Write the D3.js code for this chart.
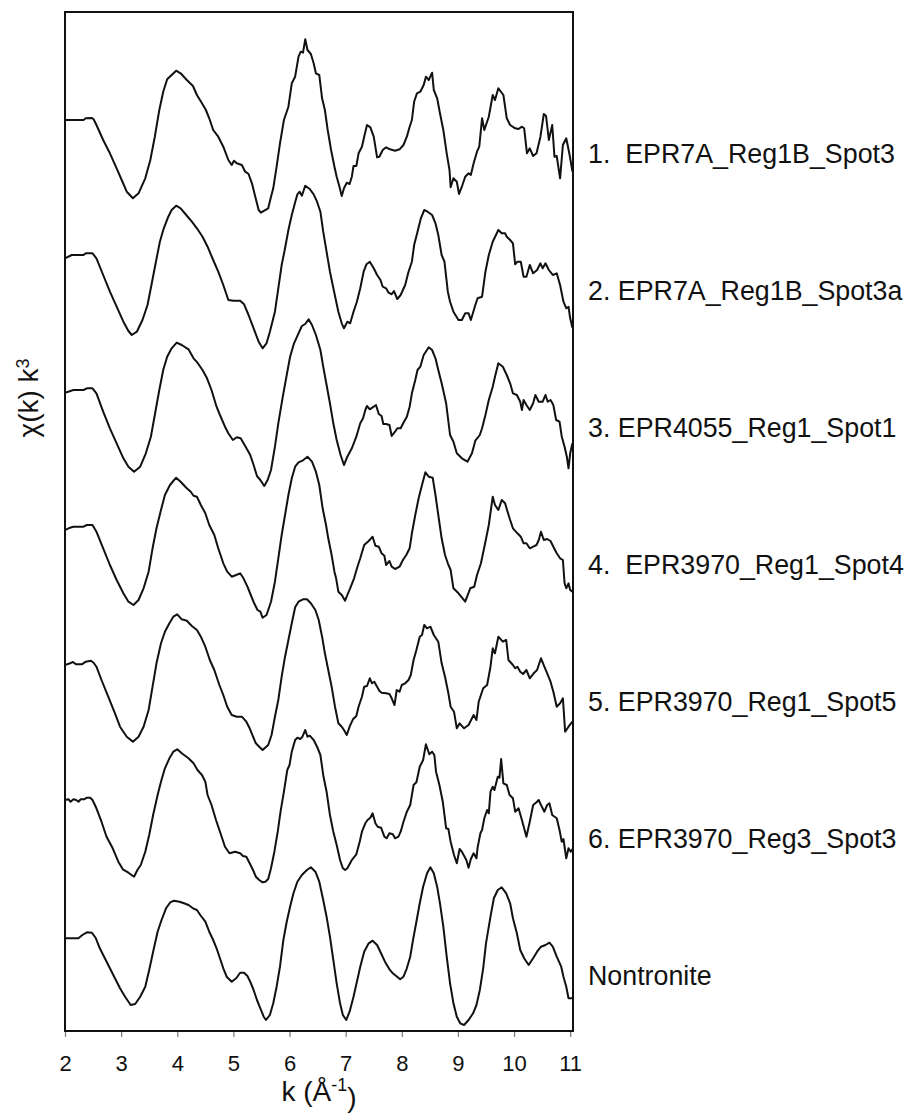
<!DOCTYPE html>
<html>
<head>
<meta charset="utf-8">
<script src="https://cdn.jsdelivr.net/npm/d3@7"></script>
<style>
  html, body { margin: 0; padding: 0; background: #fff; }
  svg { display: block; }
  text { font-family: "Liberation Sans", Arial, Helvetica, sans-serif; fill: #111; }
</style>
</head>
<body>
<svg id="chart" width="910" height="1114"></svg>
<script>
// EXAFS spectra, chi(k)*k^3, stacked with a vertical offset per sample.
const kTicks = [2, 3, 4, 5, 6, 7, 8, 9, 10, 11];

const seriesNames = [
  "1.  EPR7A_Reg1B_Spot3",
  "2. EPR7A_Reg1B_Spot3a",
  "3. EPR4055_Reg1_Spot1",
  "4.  EPR3970_Reg1_Spot4",
  "5. EPR3970_Reg1_Spot5",
  "6. EPR3970_Reg3_Spot3",
  "Nontronite"
];

// vertical offset added to each spectrum
const offsets = [81, 67.5, 54, 40.5, 27, 13.5, 0];

// [k, chi(k)k^3] pairs
const spot3 = [
  [2.00,0],[2.33,0],[2.37,0.17],[2.48,0.2],[2.51,0.07],[2.56,-0.5],[2.68,-2.0],[2.80,-3.33],[2.92,-4.83],[3.01,-6.0],
  [3.10,-7.17],[3.21,-7.83],[3.31,-7.33],[3.43,-5.83],[3.52,-4.0],[3.60,-1.67],[3.68,1.0],[3.75,2.83],[3.82,4.07],[3.90,4.5],
  [3.98,4.93],[4.06,4.67],[4.17,4.0],[4.28,3.4],[4.35,2.5],[4.44,1.67],[4.51,1.0],[4.57,0.17],[4.64,-1.0],[4.73,-1.67],
  [4.82,-2.67],[4.91,-4.0],[4.97,-4.5],[5.01,-4.07],[5.06,-4.33],[5.15,-4.5],[5.21,-5.17],[5.27,-5.4],[5.33,-6.33],[5.39,-7.67],
  [5.45,-9.0],[5.49,-9.27],[5.55,-9.07],[5.62,-8.83],[5.67,-7.67],[5.71,-6.83],[5.77,-4.67],[5.83,-2.33],[5.90,0],[5.98,1.33],
  [6.04,3.67],[6.10,4.33],[6.16,6.33],[6.20,6.83],[6.24,6.73],[6.28,8.07],[6.32,7.0],[6.38,6.6],[6.43,5.67],[6.47,4.67],
  [6.53,4.5],[6.58,2.17],[6.63,1.0],[6.68,-1.0],[6.74,-3.0],[6.80,-4.67],[6.84,-5.67],[6.89,-6.67],[6.93,-7.6],[6.97,-6.83],
  [7.02,-6.27],[7.07,-6.4],[7.11,-5.67],[7.14,-4.6],[7.19,-4.6],[7.23,-3.33],[7.29,-2.67],[7.33,-1.67],[7.38,-0.5],[7.44,-0.73],
  [7.50,-1.67],[7.56,-3.73],[7.60,-3.67],[7.66,-3.0],[7.72,-2.73],[7.79,-2.93],[7.88,-3.07],[7.96,-2.93],[8.03,-2.5],[8.09,-1.67],
  [8.14,-0.67],[8.18,0],[8.22,1.83],[8.27,2.67],[8.33,2.83],[8.39,3.5],[8.43,4.33],[8.48,4.0],[8.54,4.73],[8.57,3.0],
  [8.63,2.17],[8.68,0.67],[8.74,-1.0],[8.80,-3.33],[8.85,-5.0],[8.87,-6.73],[8.92,-5.83],[8.98,-6.17],[9.02,-7.4],[9.07,-6.67],
  [9.13,-5.67],[9.19,-5.33],[9.23,-5.5],[9.28,-4.33],[9.34,-3.17],[9.38,-2.67],[9.43,0.17],[9.47,-1.0],[9.55,0.33],[9.62,2.5],
  [9.66,2.0],[9.72,3.17],[9.81,2.5],[9.87,0.17],[9.93,-0.5],[10.02,-0.83],[10.08,-0.9],[10.14,-0.67],[10.18,-0.83],[10.23,-3.33],
  [10.28,-2.83],[10.34,-3.6],[10.40,-3.33],[10.47,-1.67],[10.53,0.6],[10.57,0.4],[10.62,-2.0],[10.68,-0.5],[10.72,-3.67],[10.76,-3.6],
  [10.82,-5.83],[10.87,-2.5],[10.93,-1.83],[10.99,-3.5],[11.04,-5.17]
];

const spot3a = [
  [2.00,-0.33],[2.12,0],[2.33,0],[2.37,0.17],[2.49,0.17],[2.56,-0.33],[2.68,-2.0],[2.80,-3.67],[2.92,-5.17],[3.04,-6.67],
  [3.13,-7.6],[3.19,-8.0],[3.28,-7.67],[3.38,-6.5],[3.47,-5.0],[3.54,-3.0],[3.62,-0.67],[3.69,1.33],[3.76,2.67],[3.84,3.83],
  [3.90,4.5],[3.98,4.93],[4.06,4.67],[4.16,4.0],[4.26,3.33],[4.35,2.67],[4.45,1.83],[4.54,0.83],[4.64,-0.5],[4.73,-1.67],
  [4.82,-3.0],[4.91,-4.5],[5.00,-4.57],[5.12,-4.57],[5.19,-4.93],[5.27,-6.0],[5.36,-7.33],[5.45,-8.67],[5.52,-9.33],[5.59,-8.83],
  [5.65,-7.67],[5.74,-5.67],[5.80,-3.33],[5.86,-1.0],[5.92,0.67],[5.98,2.5],[6.04,4.0],[6.10,5.27],[6.14,6.07],[6.18,6.33],
  [6.22,5.93],[6.28,6.93],[6.36,6.6],[6.43,6.07],[6.49,5.33],[6.55,4.33],[6.60,2.33],[6.66,0.33],[6.72,-1.67],[6.80,-3.83],
  [6.87,-5.67],[6.93,-6.83],[6.97,-7.33],[7.03,-6.67],[7.08,-6.83],[7.14,-5.67],[7.20,-4.67],[7.26,-3.33],[7.32,-1.67],[7.37,-0.93],
  [7.43,-0.67],[7.50,-1.33],[7.56,-2.0],[7.62,-2.5],[7.66,-3.17],[7.72,-3.33],[7.76,-3.73],[7.82,-3.93],[7.86,-3.6],[7.92,-4.4],
  [7.98,-4.0],[8.06,-3.0],[8.12,-1.67],[8.18,-0.67],[8.22,1.0],[8.28,2.33],[8.34,3.67],[8.40,4.5],[8.46,4.33],[8.54,4.0],
  [8.60,3.17],[8.65,2.0],[8.71,0],[8.76,-0.67],[8.82,-3.67],[8.86,-4.67],[8.92,-5.67],[9.01,-6.5],[9.07,-6.5],[9.13,-5.83],
  [9.19,-5.83],[9.23,-6.5],[9.31,-5.0],[9.35,-4.33],[9.43,-4.17],[9.49,-1.67],[9.55,0],[9.62,1.33],[9.72,2.5],[9.78,2.17],
  [9.84,2.17],[9.87,1.83],[9.93,1.5],[9.98,1.17],[10.02,-0.93],[10.06,-0.67],[10.12,-0.67],[10.17,-2.17],[10.22,-2.17],[10.28,-1.0],
  [10.34,-1.83],[10.41,-1.5],[10.47,-0.83],[10.51,-1.33],[10.56,-0.83],[10.62,-1.5],[10.69,-2.0],[10.76,-1.83],[10.82,-3.0],[10.88,-4.67],
  [10.93,-5.33],[10.97,-5.17],[11.00,-6.33],[11.04,-7.27]
];

const epr4055 = [
  [2.00,-0.27],[2.15,0],[2.33,0],[2.39,0.17],[2.49,0.17],[2.56,-0.33],[2.68,-2.17],[2.80,-3.83],[2.92,-5.33],[3.04,-6.83],
  [3.13,-7.67],[3.23,-8.17],[3.34,-7.67],[3.44,-6.33],[3.53,-4.67],[3.60,-2.5],[3.68,0],[3.75,2.0],[3.82,3.33],[3.90,4.17],
  [3.99,4.73],[4.08,4.5],[4.20,4.07],[4.29,3.17],[4.36,2.73],[4.45,2.0],[4.53,1.17],[4.61,0],[4.70,-1.67],[4.76,-2.5],
  [4.85,-3.67],[4.91,-4.33],[4.99,-5.0],[5.06,-4.73],[5.13,-4.83],[5.21,-5.6],[5.30,-6.5],[5.36,-7.5],[5.42,-8.6],[5.48,-9.0],
  [5.55,-9.6],[5.61,-9.0],[5.67,-8.0],[5.74,-5.67],[5.80,-3.33],[5.88,-0.67],[5.95,1.5],[6.01,3.33],[6.08,4.67],[6.16,5.67],
  [6.22,6.4],[6.28,6.6],[6.34,7.07],[6.40,6.5],[6.47,5.5],[6.55,4.0],[6.60,2.33],[6.66,0.5],[6.72,-1.33],[6.78,-3.33],
  [6.84,-5.0],[6.91,-6.5],[6.97,-7.5],[7.03,-6.67],[7.11,-5.83],[7.19,-4.67],[7.26,-3.33],[7.31,-2.83],[7.35,-2.0],[7.38,-1.6],
  [7.43,-1.93],[7.50,-1.67],[7.54,-1.5],[7.59,-2.4],[7.64,-2.6],[7.67,-3.4],[7.72,-3.4],[7.78,-3.5],[7.82,-4.6],[7.88,-4.17],
  [7.92,-3.83],[7.98,-3.83],[8.03,-3.27],[8.09,-2.67],[8.14,-1.67],[8.18,-0.33],[8.24,1.0],[8.28,2.0],[8.33,2.33],[8.39,3.5],
  [8.48,4.27],[8.54,4.0],[8.60,3.17],[8.65,2.0],[8.71,0.67],[8.79,-1.33],[8.86,-4.5],[8.92,-5.17],[8.98,-6.33],[9.07,-6.83],
  [9.17,-7.17],[9.25,-6.33],[9.31,-5.07],[9.39,-4.5],[9.43,-3.83],[9.49,-2.5],[9.55,-1.0],[9.62,0.33],[9.66,1.33],[9.72,2.67],
  [9.80,2.33],[9.87,1.5],[9.93,0.67],[9.98,-0.33],[10.05,-0.5],[10.11,-1.17],[10.14,-2.0],[10.17,-1.0],[10.22,-1.5],[10.28,-2.0],
  [10.34,-1.33],[10.38,-0.5],[10.44,-1.17],[10.51,-1.17],[10.56,-0.5],[10.60,-1.17],[10.65,-1.0],[10.70,-1.5],[10.75,-3.0],[10.81,-3.17],
  [10.85,-4.67],[10.90,-5.67],[10.94,-6.67],[10.97,-7.83],[11.00,-6.33],[11.04,-5.33]
];

const epr3970s4 = [
  [2.00,-0.5],[2.09,-0.27],[2.15,-0.17],[2.33,-0.17],[2.39,0],[2.49,0],[2.56,-0.67],[2.68,-2.33],[2.80,-4.0],[2.92,-5.5],
  [3.04,-6.83],[3.13,-7.67],[3.22,-8.0],[3.31,-7.5],[3.40,-6.33],[3.49,-4.67],[3.56,-2.33],[3.63,-0.33],[3.71,1.5],[3.78,3.0],
  [3.87,4.0],[3.98,4.73],[4.06,4.33],[4.16,3.73],[4.24,3.33],[4.29,2.93],[4.35,2.83],[4.42,2.0],[4.50,1.17],[4.57,0],
  [4.66,-1.0],[4.73,-2.33],[4.82,-3.83],[4.89,-4.67],[4.97,-5.17],[5.05,-5.0],[5.12,-4.83],[5.18,-5.33],[5.25,-6.17],[5.31,-7.0],
  [5.37,-7.83],[5.43,-8.5],[5.48,-8.67],[5.52,-9.27],[5.59,-9.0],[5.67,-7.67],[5.74,-5.67],[5.80,-3.33],[5.86,-1.0],[5.92,1.0],
  [5.98,3.0],[6.04,4.67],[6.10,5.83],[6.16,6.27],[6.24,6.47],[6.32,6.83],[6.40,6.33],[6.47,5.33],[6.53,4.0],[6.59,1.67],
  [6.65,0],[6.69,-1.33],[6.75,-3.0],[6.80,-4.67],[6.83,-5.33],[6.87,-6.67],[6.93,-7.0],[6.99,-7.57],[7.03,-7.0],[7.08,-6.33],
  [7.15,-5.33],[7.21,-4.17],[7.26,-3.33],[7.33,-2.0],[7.41,-1.6],[7.48,-1.17],[7.53,-2.07],[7.59,-2.17],[7.64,-2.83],[7.69,-3.07],
  [7.72,-4.0],[7.78,-3.6],[7.82,-4.17],[7.88,-4.4],[7.96,-4.17],[8.02,-3.5],[8.08,-3.0],[8.14,-2.33],[8.18,-0.83],[8.24,1.0],
  [8.30,2.67],[8.36,4.0],[8.42,5.27],[8.48,4.83],[8.55,4.73],[8.60,3.0],[8.65,1.0],[8.71,-1.33],[8.77,-3.0],[8.82,-3.83],
  [8.87,-4.5],[8.92,-6.33],[9.01,-6.83],[9.13,-7.67],[9.22,-6.33],[9.29,-6.17],[9.34,-5.0],[9.41,-3.83],[9.49,-1.67],[9.55,0],
  [9.62,2.83],[9.66,2.0],[9.72,1.5],[9.78,2.5],[9.84,2.17],[9.92,0.67],[9.98,-0.33],[10.06,-0.83],[10.12,-1.17],[10.17,-1.83],
  [10.22,-1.83],[10.28,-2.33],[10.34,-2.17],[10.40,-2.0],[10.44,-1.5],[10.48,-0.67],[10.53,-1.5],[10.59,-1.4],[10.65,-1.6],[10.70,-2.17],
  [10.76,-2.83],[10.82,-3.33],[10.87,-3.5],[10.90,-5.83],[10.93,-6.33],[10.97,-5.83],[11.00,-6.5],[11.04,-6.67]
];

const epr3970s5 = [
  [2.00,-0.5],[2.09,-0.33],[2.14,-0.2],[2.20,-0.43],[2.30,-0.43],[2.37,-0.17],[2.46,-0.07],[2.51,-0.27],[2.56,-0.67],[2.65,-2.0],
  [2.77,-3.67],[2.89,-5.33],[2.98,-6.67],[3.10,-7.67],[3.21,-8.17],[3.31,-7.67],[3.40,-6.67],[3.49,-5.0],[3.56,-2.67],[3.63,-0.33],
  [3.71,1.67],[3.78,2.83],[3.86,3.67],[3.93,4.33],[4.00,4.57],[4.08,4.07],[4.17,3.93],[4.26,3.4],[4.35,3.0],[4.42,2.33],
  [4.50,1.33],[4.58,0],[4.66,-1.0],[4.75,-2.5],[4.82,-3.5],[4.89,-4.67],[4.97,-5.5],[5.06,-5.67],[5.15,-5.67],[5.23,-6.17],
  [5.29,-6.83],[5.35,-7.67],[5.40,-8.33],[5.46,-8.67],[5.52,-9.0],[5.62,-8.5],[5.68,-7.5],[5.74,-5.67],[5.80,-4.0],[5.86,-1.67],
  [5.92,0.33],[5.98,2.0],[6.04,3.67],[6.10,5.27],[6.16,5.83],[6.24,6.07],[6.31,6.07],[6.38,5.67],[6.46,5.0],[6.52,4.0],
  [6.58,2.33],[6.63,0.67],[6.69,-1.0],[6.75,-2.67],[6.81,-4.67],[6.87,-6.33],[6.93,-6.67],[6.97,-7.0],[7.02,-7.5],[7.07,-6.67],
  [7.13,-5.93],[7.19,-5.6],[7.23,-4.67],[7.29,-3.67],[7.33,-2.67],[7.38,-2.6],[7.43,-1.83],[7.47,-2.33],[7.51,-2.17],[7.56,-2.67],
  [7.60,-3.07],[7.64,-3.27],[7.72,-3.33],[7.78,-3.4],[7.82,-3.83],[7.87,-4.5],[7.91,-3.0],[7.96,-3.17],[8.00,-2.5],[8.06,-2.33],
  [8.12,-2.0],[8.16,-1.5],[8.21,0],[8.26,1.0],[8.32,2.33],[8.36,2.5],[8.40,3.5],[8.45,3.17],[8.51,3.33],[8.57,2.5],
  [8.65,1.83],[8.71,-0.33],[8.77,-1.67],[8.83,-3.33],[8.87,-4.67],[8.93,-5.17],[8.98,-6.83],[9.03,-6.33],[9.11,-6.83],[9.19,-6.5],
  [9.28,-5.5],[9.33,-6.0],[9.37,-4.17],[9.45,-2.83],[9.52,-2.5],[9.58,-0.67],[9.62,1.17],[9.66,0.67],[9.72,2.33],[9.80,1.83],
  [9.86,2.0],[9.90,0],[9.98,-0.5],[10.02,-0.83],[10.06,-0.67],[10.11,-1.17],[10.16,-1.4],[10.22,-1.0],[10.28,-1.83],[10.35,-1.33],
  [10.41,-1.0],[10.48,0.17],[10.54,-0.67],[10.59,-1.33],[10.65,-2.17],[10.70,-3.17],[10.76,-4.67],[10.82,-4.33],[10.87,-3.83],[10.91,-7.17],
  [10.97,-6.67],[11.04,-6.17]
];

const epr3970r3 = [
  [2.00,-0.5],[2.06,-0.43],[2.10,-0.67],[2.15,-0.43],[2.20,-0.5],[2.24,-0.67],[2.28,-0.43],[2.34,-0.43],[2.39,-0.27],[2.45,-0.27],
  [2.49,-0.5],[2.56,-1.33],[2.65,-2.67],[2.74,-4.17],[2.85,-5.33],[2.95,-6.67],[3.03,-7.43],[3.13,-7.77],[3.23,-8.17],[3.29,-7.5],
  [3.35,-7.0],[3.43,-5.67],[3.50,-4.0],[3.57,-2.0],[3.65,0],[3.71,1.33],[3.78,2.67],[3.86,3.67],[3.93,4.33],[4.00,4.57],
  [4.08,4.17],[4.20,3.67],[4.29,3.17],[4.36,2.5],[4.44,2.0],[4.50,1.33],[4.54,0],[4.61,-1.0],[4.69,-2.5],[4.77,-3.83],
  [4.85,-5.17],[4.93,-5.83],[5.03,-5.67],[5.12,-5.83],[5.17,-6.1],[5.23,-6.17],[5.29,-6.83],[5.35,-7.5],[5.40,-8.17],[5.46,-8.5],
  [5.52,-8.73],[5.57,-8.67],[5.62,-8.4],[5.67,-7.33],[5.73,-5.67],[5.79,-3.67],[5.84,-1.67],[5.90,0.33],[5.96,2.5],[6.00,3.0],
  [6.04,4.33],[6.10,5.5],[6.14,5.73],[6.19,5.6],[6.23,5.83],[6.28,6.5],[6.32,5.83],[6.36,5.93],[6.43,5.5],[6.49,4.83],
  [6.55,4.0],[6.60,2.0],[6.66,0.33],[6.72,-2.0],[6.78,-3.67],[6.84,-5.0],[6.90,-6.5],[6.95,-7.33],[6.99,-7.5],[7.03,-7.33],
  [7.11,-6.5],[7.19,-5.93],[7.25,-4.67],[7.29,-3.67],[7.35,-2.83],[7.39,-2.5],[7.44,-2.27],[7.48,-1.83],[7.53,-2.83],[7.57,-3.17],
  [7.63,-3.27],[7.69,-4.17],[7.73,-4.33],[7.78,-3.83],[7.84,-3.93],[7.88,-4.33],[7.94,-4.17],[7.98,-3.67],[8.03,-2.67],[8.09,-1.67],
  [8.15,-1.0],[8.21,1.0],[8.26,1.27],[8.32,2.83],[8.38,3.5],[8.43,5.07],[8.49,4.07],[8.54,4.33],[8.58,4.0],[8.61,2.33],
  [8.67,1.0],[8.73,-0.67],[8.79,-3.33],[8.83,-3.4],[8.87,-4.67],[8.93,-6.0],[8.98,-6.83],[9.03,-5.4],[9.07,-5.67],[9.15,-6.5],
  [9.19,-7.27],[9.23,-6.4],[9.28,-5.83],[9.33,-6.33],[9.35,-5.27],[9.40,-3.83],[9.43,-3.5],[9.47,-2.33],[9.52,-1.5],[9.55,-1.83],
  [9.58,0.33],[9.62,0.83],[9.65,0.5],[9.71,1.83],[9.74,1.73],[9.77,3.6],[9.81,1.17],[9.87,1.0],[9.92,0],[9.98,-0.33],
  [10.02,-1.67],[10.08,-1.33],[10.14,-2.5],[10.22,-4.17],[10.28,-2.67],[10.34,-1.0],[10.40,-0.73],[10.44,-0.5],[10.48,-1.0],[10.54,-1.67],
  [10.59,-1.0],[10.63,-0.83],[10.68,-2.0],[10.76,-2.33],[10.81,-3.5],[10.85,-4.67],[10.88,-4.4],[10.93,-6.33],[10.97,-5.33],[11.01,-5.67],
  [11.04,-5.4]
];

const nontronite = [
  [2.00,-0.83],[2.24,-0.83],[2.31,-0.5],[2.39,-0.23],[2.48,-0.27],[2.55,-0.83],[2.62,-1.83],[2.71,-2.83],[2.80,-3.83],[2.89,-4.83],
  [2.98,-5.83],[3.07,-6.67],[3.17,-7.5],[3.25,-7.4],[3.34,-6.67],[3.43,-5.67],[3.50,-4.0],[3.57,-2.17],[3.65,-0.17],[3.72,1.0],
  [3.80,2.17],[3.87,2.73],[3.94,2.93],[4.04,2.83],[4.12,2.67],[4.20,2.5],[4.28,2.17],[4.35,2.0],[4.41,1.5],[4.50,0.83],
  [4.57,-0.17],[4.64,-1.0],[4.70,-1.83],[4.76,-2.83],[4.82,-3.83],[4.88,-4.67],[4.97,-5.17],[5.05,-4.83],[5.12,-4.27],[5.19,-4.27],
  [5.25,-4.6],[5.30,-5.17],[5.36,-6.0],[5.42,-7.0],[5.48,-7.83],[5.54,-8.67],[5.58,-9.0],[5.65,-8.5],[5.71,-7.33],[5.77,-5.67],
  [5.83,-3.67],[5.89,-1.0],[5.95,0.83],[6.01,2.33],[6.07,3.67],[6.14,4.83],[6.22,5.5],[6.31,6.0],[6.38,6.27],[6.46,5.83],
  [6.53,4.83],[6.60,3.0],[6.66,1.33],[6.72,-0.67],[6.78,-3.0],[6.84,-5.33],[6.90,-7.33],[6.95,-8.5],[7.01,-9.0],[7.07,-8.17],
  [7.14,-6.67],[7.20,-5.17],[7.26,-3.67],[7.33,-2.17],[7.41,-1.33],[7.48,-1.07],[7.56,-1.5],[7.63,-2.33],[7.70,-3.17],[7.78,-3.93],
  [7.84,-4.33],[7.90,-4.6],[7.97,-4.93],[8.03,-4.67],[8.09,-3.83],[8.15,-2.67],[8.20,-1.0],[8.26,0.83],[8.32,2.67],[8.38,4.33],
  [8.45,5.67],[8.51,6.27],[8.57,5.67],[8.63,4.33],[8.68,2.67],[8.74,0.33],[8.80,-2.67],[8.86,-5.33],[8.92,-7.33],[8.98,-8.67],
  [9.04,-9.33],[9.11,-9.5],[9.19,-9.0],[9.27,-8.33],[9.33,-7.5],[9.39,-6.0],[9.45,-3.83],[9.50,-1.33],[9.58,1.33],[9.64,3.17],
  [9.71,4.0],[9.78,4.27],[9.86,3.67],[9.93,2.67],[9.98,1.17],[10.05,-0.33],[10.11,-2.0],[10.18,-2.83],[10.26,-3.5],[10.34,-2.83],
  [10.41,-2.17],[10.48,-1.67],[10.56,-1.5],[10.63,-1.27],[10.69,-1.67],[10.76,-2.67],[10.84,-3.67],[10.88,-4.67],[10.93,-5.67],[10.97,-6.83],
  [11.04,-6.83]
];

const spectra = [spot3, spot3a, epr4055, epr3970s4, epr3970s5, epr3970r3, nontronite];

// ---- layout ----
const plot = { left: 65, right: 573, top: 12, bottom: 1031 };

const x = d3.scaleLinear().domain([2, 11.05]).range([plot.left, plot.right]);
const y = d3.scaleLinear().domain([-10.1, 91.8]).range([plot.bottom, plot.top]);

const svg = d3.select("#chart");

svg.append("defs").append("clipPath").attr("id", "plotClip")
  .append("rect")
  .attr("x", plot.left).attr("y", plot.top)
  .attr("width", plot.right - plot.left).attr("height", plot.bottom - plot.top);

// bottom axis with ticks pointing outward
const xAxis = d3.axisBottom(x)
  .tickValues(kTicks)
  .tickFormat(d3.format("d"))
  .tickSizeInner(6)
  .tickSizeOuter(0)
  .tickPadding(18);

const axisG = svg.append("g")
  .attr("transform", `translate(0,${plot.bottom})`)
  .call(xAxis);
axisG.select(".domain").remove();
axisG.selectAll(".tick line").attr("stroke", "#777").attr("stroke-width", 1.2);
axisG.selectAll(".tick text")
  .style("font-family", '"Liberation Sans", Arial, sans-serif')
  .style("font-size", "22px")
  .attr("fill", "#111");

// spectra
const line = d3.line()
  .x(d => x(d[0]))
  .curve(d3.curveLinear);

const curves = svg.append("g").attr("clip-path", "url(#plotClip)");
spectra.forEach((data, i) => {
  curves.append("path")
    .datum(data)
    .attr("fill", "none")
    .attr("stroke", "#111")
    .attr("stroke-width", 2)
    .attr("stroke-linejoin", "round")
    .attr("d", line.y(d => y(d[1] + offsets[i])));
});

// plot frame
svg.append("rect")
  .attr("x", plot.left).attr("y", plot.top)
  .attr("width", plot.right - plot.left).attr("height", plot.bottom - plot.top)
  .attr("fill", "none").attr("stroke", "#111").attr("stroke-width", 2);

// sample labels to the right of each spectrum
svg.append("g").selectAll("text")
  .data(seriesNames)
  .join("text")
  .attr("x", 588)
  .attr("y", (d, i) => 153 + 137 * i)
  .attr("dy", "0.36em")
  .style("font-size", "26.8px")
  .style("white-space", "pre")
  .attr("xml:space", "preserve")
  .text(d => d);

// x axis title: k (Å^-1)
const xt = svg.append("text")
  .attr("x", (plot.left + plot.right) / 2)
  .attr("y", 1101)
  .attr("text-anchor", "middle")
  .style("font-size", "28px");
xt.append("tspan").text("k (Å");
xt.append("tspan").attr("dy", "-0.55em").style("font-size", "18px").text("-1");
xt.append("tspan").attr("dy", "0.55em").text(")");

// y axis title: chi(k) k^3
const yt = svg.append("text")
  .attr("transform", "translate(38,398) rotate(-90)")
  .attr("text-anchor", "middle")
  .style("font-size", "28px");
yt.append("tspan").text("χ(k) k");
yt.append("tspan").attr("dy", "-0.5em").style("font-size", "18px").text("3");
</script>
</body>
</html>
